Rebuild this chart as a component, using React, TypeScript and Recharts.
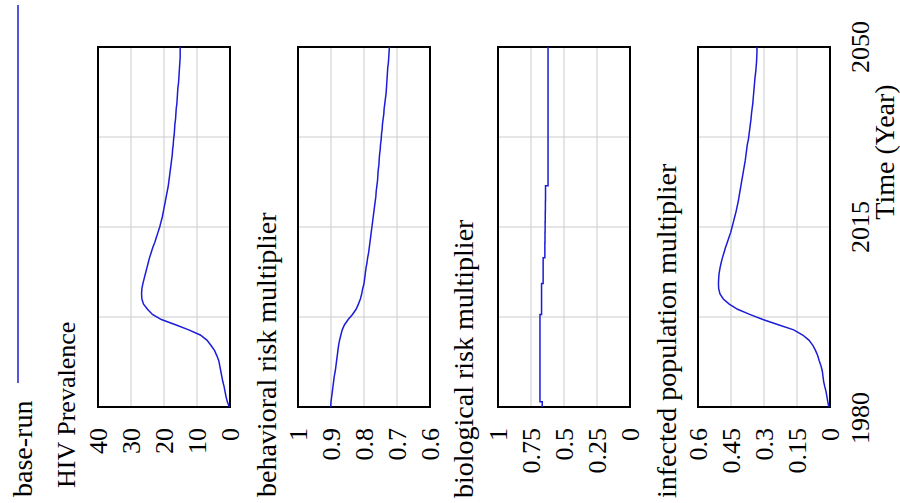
import React from 'react';
import {
  LineChart, Line, XAxis, YAxis, CartesianGrid, ReferenceArea
} from 'recharts';

const years = [
  1980, 1981, 1982, 1983, 1984, 1985, 1986, 1987, 1988, 1989,
  1990, 1991, 1992, 1993, 1994, 1995, 1996, 1997, 1998, 1999,
  2000, 2001, 2002, 2003, 2004, 2005, 2006, 2007, 2008, 2009,
  2010, 2011, 2012, 2013, 2014, 2015, 2016, 2017, 2018, 2019,
  2020, 2021, 2022, 2023, 2024, 2025, 2026, 2027, 2028, 2029,
  2030, 2031, 2032, 2033, 2034, 2035, 2036, 2037, 2038, 2039,
  2040, 2041, 2042, 2043, 2044, 2045, 2046, 2047, 2048, 2049,
  2050
];

const hivPrevalence = [
  0.2, 0.8, 1.2, 1.5, 1.8, 2.2, 2.5, 2.8, 3.1, 3.4,
  4.0, 4.7, 5.8, 7.0, 9.0, 12.5, 16.5, 20.8, 23.5, 25.0,
  26.2, 26.7, 26.8, 26.7, 26.4, 26.0, 25.6, 25.2, 24.8, 24.4,
  23.9, 23.4, 22.8, 22.3, 21.8, 21.3, 20.9, 20.5, 20.2, 19.9,
  19.6, 19.3, 19.0, 18.7, 18.5, 18.3, 18.1, 17.9, 17.7, 17.5,
  17.4, 17.2, 17.1, 16.9, 16.8, 16.7, 16.5, 16.4, 16.3, 16.1,
  16.0, 15.9, 15.8, 15.6, 15.5, 15.4, 15.3, 15.2, 15.1, 15.1,
  15.1
];

const behavioralRisk = [
  0.901, 0.900, 0.898, 0.896, 0.894, 0.892, 0.890, 0.887, 0.885, 0.883,
  0.881, 0.879, 0.877, 0.874, 0.870, 0.866, 0.859, 0.848, 0.835, 0.824,
  0.817, 0.811, 0.807, 0.804, 0.800, 0.798, 0.796, 0.794, 0.791, 0.789,
  0.786, 0.784, 0.782, 0.780, 0.778, 0.776, 0.774, 0.772, 0.770, 0.768,
  0.766, 0.764, 0.763, 0.761, 0.759, 0.758, 0.757, 0.755, 0.754, 0.753,
  0.751, 0.750, 0.748, 0.747, 0.745, 0.744, 0.742, 0.740, 0.739, 0.737,
  0.735, 0.733, 0.732, 0.731, 0.730, 0.729, 0.728, 0.726, 0.725, 0.724,
  0.723
];

const biologicalRisk = [
  0.665, 0.682, 0.682, 0.682, 0.682, 0.682, 0.682, 0.682, 0.682, 0.682,
  0.682, 0.682, 0.682, 0.682, 0.682, 0.682, 0.682, 0.682, 0.670, 0.670,
  0.670, 0.670, 0.670, 0.670, 0.658, 0.658, 0.658, 0.658, 0.658, 0.645,
  0.645, 0.645, 0.644, 0.644, 0.643, 0.643, 0.642, 0.642, 0.641, 0.641,
  0.640, 0.640, 0.640, 0.621, 0.621, 0.621, 0.621, 0.621, 0.621, 0.621,
  0.621, 0.621, 0.621, 0.621, 0.621, 0.621, 0.621, 0.621, 0.621, 0.621,
  0.621, 0.621, 0.621, 0.621, 0.621, 0.621, 0.621, 0.621, 0.621, 0.621,
  0.621
];

const infectedPopulation = [
  0.005, 0.010, 0.014, 0.018, 0.024, 0.029, 0.032, 0.035, 0.041, 0.049,
  0.056, 0.066, 0.078, 0.096, 0.124, 0.165, 0.235, 0.305, 0.365, 0.420,
  0.458, 0.485, 0.500, 0.506, 0.507, 0.506, 0.504, 0.500, 0.495, 0.489,
  0.482, 0.475, 0.467, 0.459, 0.451, 0.445, 0.439, 0.433, 0.427, 0.422,
  0.417, 0.413, 0.409, 0.405, 0.401, 0.397, 0.393, 0.389, 0.385, 0.382,
  0.379, 0.376, 0.371, 0.368, 0.365, 0.362, 0.359, 0.357, 0.354, 0.351,
  0.349, 0.347, 0.345, 0.343, 0.341, 0.338, 0.336, 0.334, 0.333, 0.332,
  0.332
];

const timeGrid = [1980, 1997.5, 2015, 2032.5, 2050];
const timeLabels = [1980, 2015, 2050];

const hivTicks = [0, 10, 20, 30, 40];
const behavioralTicks = [0.6, 0.7, 0.8, 0.9, 1];
const biologicalTicks = [0, 0.25, 0.5, 0.75, 1];
const infectedTicks = [0, 0.15, 0.3, 0.45, 0.6];

const rows = years.map((year, i) => ({
  year,
  hiv: hivPrevalence[i],
  behavioral: behavioralRisk[i],
  biological: biologicalRisk[i],
  infected: infectedPopulation[i]
}));

const FONT = "'Liberation Serif', 'DejaVu Serif', 'Times New Roman', serif";
const BLUE = '#1c1cd8';
const W = 503;

const TimeTick = (props: any) => {
  const { x, y, payload } = props;
  if (!timeLabels.includes(payload.value)) return <g />;
  const shift = payload.value === 1980 ? -11 : 0;
  return (
    <text x={x + shift} y={y} dy="0.71em" textAnchor="middle"
      style={{ fontFamily: FONT, fontSize: 26 }} fill="#000">
      {payload.value}
    </text>
  );
};

const NoTick = () => <g />;

const ValueTick = (props: any) => {
  const { x, y, payload } = props;
  return (
    <text x={x} y={y} dy="0.355em" textAnchor="end"
      style={{ fontFamily: FONT, fontSize: 26 }} fill="#000">
      {payload.value}
    </text>
  );
};

interface PanelProps {
  dataKey: string;
  ticks: number[];
  top: number;
  showTime?: boolean;
  stepped?: boolean;
}

const Panel = ({ dataKey, ticks, top, showTime, stepped }: PanelProps) => {
  const height = showTime ? 250 : 200;
  return (
    <div style={{ position: 'absolute', left: 0, top }}>
      <LineChart width={W} height={height} data={rows}
        margin={{ top: 48, right: 47, bottom: showTime ? 30 : 20, left: 0 }}>
        <CartesianGrid stroke="#cccccc" strokeWidth={1} />
        <XAxis type="number" dataKey="year" domain={[1980, 2050]} ticks={timeGrid}
          axisLine={false} tickLine={false} height={showTime ? 40 : 0}
          tickSize={6} tickMargin={15} interval={0}
          tick={showTime ? <TimeTick /> : <NoTick />} />
        <YAxis type="number" domain={[ticks[0], ticks[ticks.length - 1]]} ticks={ticks}
          width={96} axisLine={false} tickLine={false} tickSize={6} tickMargin={15}
          interval={0} tick={<ValueTick />} />
        <ReferenceArea x1={1980} x2={2050} y1={ticks[0]} y2={ticks[ticks.length - 1]}
          fill="none" stroke="#000" strokeWidth={2} />
        <Line type={stepped ? 'stepAfter' : 'linear'} dataKey={dataKey} stroke={BLUE}
          strokeWidth={1.5} dot={false} isAnimationActive={false} />
      </LineChart>
    </div>
  );
};

const titleStyle = { fontFamily: FONT, fontSize: 28 };

export default function App() {
  return (
    <div style={{ position: 'absolute', left: 0, top: 0, width: 900, height: 503, overflow: 'hidden', background: '#fff' }}>
      <div style={{
        position: 'absolute', left: 0, top: 0, width: W, height: 900,
        transform: 'translate(0px, 503px) rotate(-90deg)', transformOrigin: '0 0'
      }}>
        <Panel dataKey="hiv" ticks={hivTicks} top={50} />
        <Panel dataKey="behavioral" ticks={behavioralTicks} top={250} />
        <Panel dataKey="biological" ticks={biologicalTicks} top={450} stepped />
        <Panel dataKey="infected" ticks={infectedTicks} top={650} showTime />
        <svg width={W} height={900} style={{ position: 'absolute', left: 0, top: 0, pointerEvents: 'none' }}>
          <line x1={120} x2={498} y1={18} y2={18} stroke={BLUE} strokeWidth={1.5} />
          <text x={6} y={32} style={titleStyle} fill="#000">base-run</text>
          <text x={15} y={75} style={{ ...titleStyle, fontSize: 26 }} fill="#000">HIV Prevalence</text>
          <text x={6} y={276} style={titleStyle} fill="#000">behavioral risk multiplier</text>
          <text x={5} y={473} style={titleStyle} fill="#000">biological risk multiplier</text>
          <text x={5} y={676} style={titleStyle} fill="#000">infected population multiplier</text>
          <text x={351} y={894} textAnchor="middle" style={titleStyle} fill="#000">Time (Year)</text>
        </svg>
      </div>
    </div>
  );
}
